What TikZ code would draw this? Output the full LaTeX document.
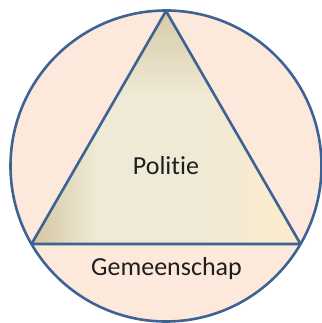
\documentclass[tikz,border=0pt]{standalone}
\usepackage{fontspec}
\setmainfont[RawFeature={-liga,-dlig}]{Carlito}
\usetikzlibrary{fadings}
\definecolor{peach}{HTML}{FDE9DB}
\definecolor{edge}{HTML}{3D6394}
\definecolor{tanL}{HTML}{D3C5A0}
\definecolor{midL}{HTML}{EFEAD6}
\definecolor{creamR}{HTML}{FCEBCC}
\pgfdeclarehorizontalshading{triH}{100bp}{color(0bp)=(tanL); color(25bp)=(tanL); color(37bp)=(midL); color(56bp)=(midL); color(72bp)=(creamR); color(100bp)=(creamR)}
\pgfdeclareverticalshading{fadeV}{100bp}{color(0bp)=(pgftransparent!100); color(25bp)=(pgftransparent!100); color(57bp)=(pgftransparent!100); color(75bp)=(pgftransparent!15); color(100bp)=(pgftransparent!15)}
\pgfdeclarefading{topfade}{\pgfuseshading{fadeV}}
\tikzset{outline/.style={draw=edge, line width=2.6pt, line join=round},
  lbl/.style={font=\fontsize{26}{30}\selectfont, text=black!88, inner sep=0pt}}
\begin{document}
\begin{tikzpicture}[x=1pt,y=1pt]
\useasboundingbox (0,0) rectangle (321,-323);
\node[circle, minimum size=311pt, inner sep=0pt, fill=peach, outline] (circ) at (166,-166) {};
\coordinate (A) at (166,-11);
\coordinate (L) at (31.5,-244);
\coordinate (R) at (300.5,-244);
\shade[shading=triH] (A) -- (L) -- (R) -- cycle;
\fill[tanL, path fading=topfade] (A) -- (L) -- (R) -- cycle;
\draw[outline] (A) -- (L) -- (R) -- cycle;
\node[lbl] (pol) at (166,-166) {Politie};
\node[lbl] (gem) at (166.5,-269) {Gemeenschap};
\end{tikzpicture}
\end{document}
